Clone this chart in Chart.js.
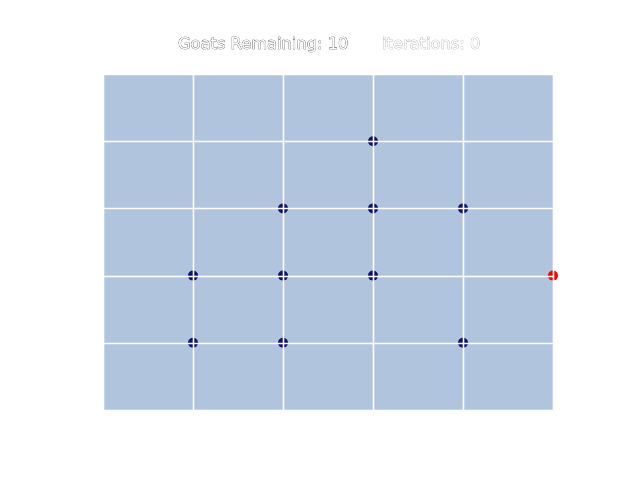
<!DOCTYPE html>
<html><head><meta charset="utf-8">
<script src="https://cdn.jsdelivr.net/npm/chart.js@4"></script>
<style>html,body{margin:0;padding:0;background:#fff}#wrap{width:640px;height:480px}</style>
</head><body><div id="wrap"><canvas id="c" width="640" height="480"></canvas></div>
<script>
const goatX = [3, 2, 3, 4, 1, 2, 3, 1, 2, 4];
const goatY = [4, 3, 3, 3, 2, 2, 2, 1, 1, 1];
const wolfX = [5];
const wolfY = [2];
const gridTicks = [0, 1, 2, 3, 4, 5];
const titleLeft = 'Goats Remaining: 10';
const titleRight = 'iterations: 0';

const bgPlugin = {
  id: 'bg',
  beforeDraw(chart) {
    const {ctx, chartArea: a} = chart;
    ctx.save();
    ctx.fillStyle = '#b0c4de';
    ctx.fillRect(a.left, a.top, a.right - a.left, a.bottom - a.top);
    ctx.restore();
  },
  afterDatasetsDraw(chart) {
    const {ctx, chartArea: a, scales} = chart;
    ctx.save();
    ctx.strokeStyle = '#ffffff';
    ctx.lineWidth = 1.6;
    gridTicks.forEach(v => {
      const px = Math.round(scales.x.getPixelForValue(v)) + 0.5;
      ctx.beginPath(); ctx.moveTo(px, a.top); ctx.lineTo(px, a.bottom); ctx.stroke();
      const py = Math.round(scales.y.getPixelForValue(v)) + 0.5;
      ctx.beginPath(); ctx.moveTo(a.left, py); ctx.lineTo(a.right, py); ctx.stroke();
    });
    ctx.restore();
  },
  afterDraw(chart) {
    const ctx = chart.ctx;
    ctx.save();
    ctx.font = '16.3px "DejaVu Sans"';
    ctx.textBaseline = 'alphabetic';
    ctx.lineWidth = 0.6;
    ctx.textAlign = 'left';
    ctx.fillStyle = '#fff';
    ctx.strokeStyle = '#333';
    ctx.strokeText(titleLeft, 178, 49);
    ctx.fillText(titleLeft, 178, 49);
    ctx.strokeStyle = '#999';
    ctx.strokeText(titleRight, 382, 49);
    ctx.fillText(titleRight, 382, 49);
    ctx.restore();
  }
};

new Chart(document.getElementById('c'), {
  type: 'scatter',
  data: {
    datasets: [
      {data: goatX.map((x, i) => ({x, y: goatY[i]})), backgroundColor: '#10106e', borderWidth: 0, pointRadius: 5, clip: false},
      {data: wolfX.map((x, i) => ({x, y: wolfY[i]})), backgroundColor: '#ff0000', borderWidth: 0, pointRadius: 5, clip: false}
    ]
  },
  options: {
    responsive: false,
    animation: false,
    layout: {padding: {left: 103, right: 87, top: 74, bottom: 70}},
    plugins: {legend: {display: false}, title: {display: false}, tooltip: {enabled: false}},
    scales: {
      x: {min: 0, max: 5, ticks: {display: false, stepSize: 1}, border: {display: false},
          grid: {color: 'rgba(0,0,0,0)', drawTicks: false}},
      y: {min: 0, max: 5, ticks: {display: false, stepSize: 1}, border: {display: false},
          grid: {color: 'rgba(0,0,0,0)', drawTicks: false}}
    }
  },
  plugins: [bgPlugin]
});
</script></body></html>
